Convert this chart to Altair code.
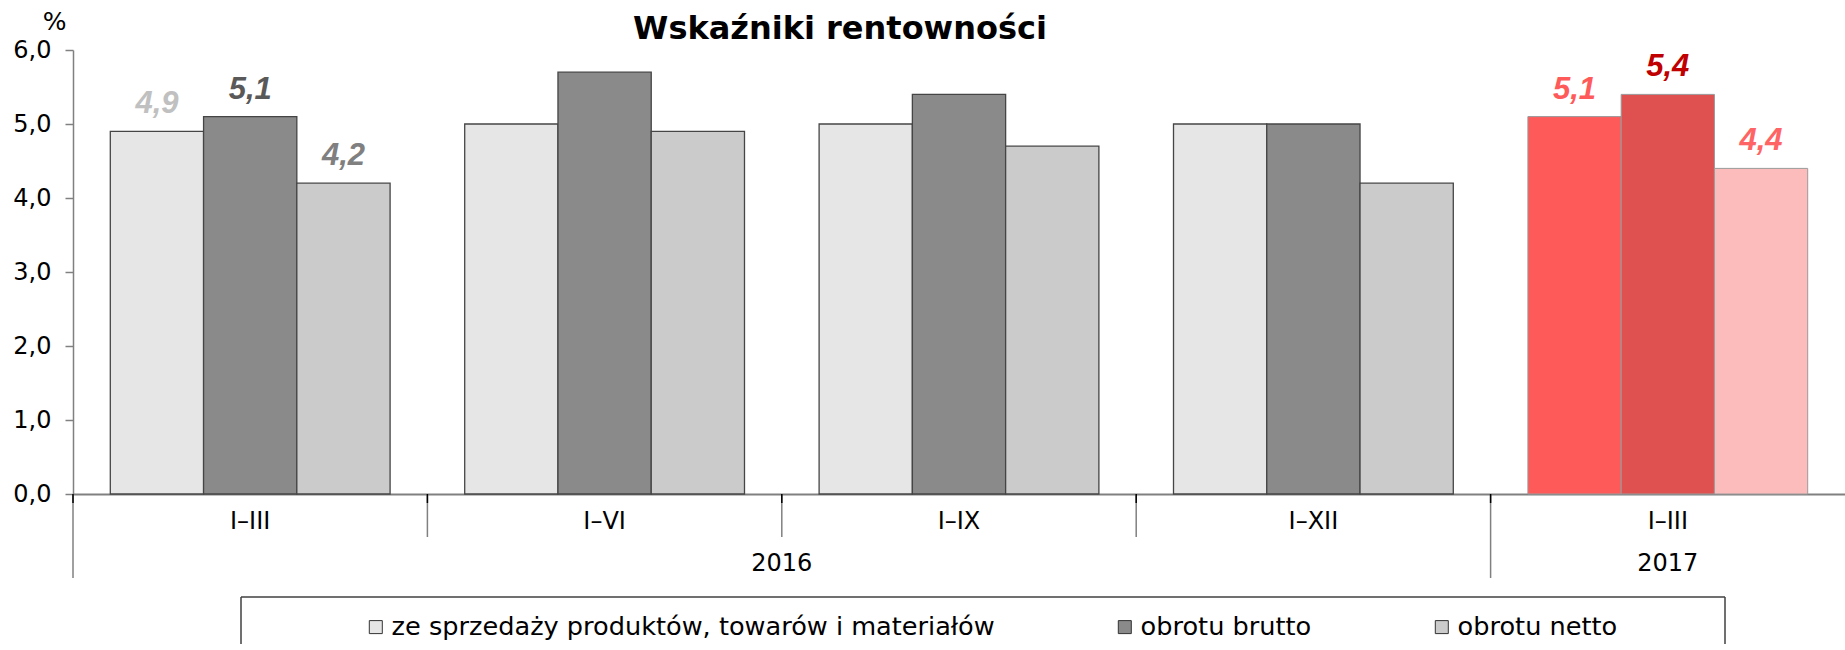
import altair as alt
import pandas as pd

# --- data -----------------------------------------------------------------
periods = ["I–III", "I–VI", "I–IX", "I–XII", "I–III"]
years = ["2016", "2016", "2016", "2016", "2017"]
series_names = [
    "ze sprzedaży produktów, towarów i materiałów",
    "obrotu brutto",
    "obrotu netto",
]
sprzedaz = [4.9, 5.0, 5.0, 5.0, 5.1]
brutto = [5.1, 5.7, 5.4, 5.0, 5.4]
netto = [4.2, 4.9, 4.7, 4.2, 4.4]
labelled_periods = [0, 4]          # periods whose bars carry value labels
y_ticks = [0, 1, 2, 3, 4, 5, 6]

# --- styling --------------------------------------------------------------
grey_fills = ["#e6e6e6", "#8a8a8a", "#cbcbcb"]
red_fills = ["#ff5a5a", "#df5050", "#fcbcbc"]
grey_text = ["#c0c0c0", "#595959", "#808080"]
red_text = ["#ff5a5a", "#c00000", "#ff6464"]

FONT = "DejaVu Sans"
LABEL_FONT = "Liberation Sans"
AXIS_GREY = "#808080"
W, H = 1772, 444

keys = [f"{y} {p}" for y, p in zip(years, periods)]
values_by_series = [sprzedaz, brutto, netto]
latest_year = years[-1]

rows = []
for i, key in enumerate(keys):
    latest = years[i] == latest_year
    for j, name in enumerate(series_names):
        v = values_by_series[j][i]
        rows.append({
            "key": key,
            "year": years[i],
            "series": name,
            "value": v,
            "fill": (red_fills if latest else grey_fills)[j],
            "text_color": (red_text if latest else grey_text)[j],
            "label": f"{v:.1f}".replace(".", ","),
            "labelled": i in labelled_periods,
        })
df = pd.DataFrame(rows)

# separators between periods: long ones where a new year starts
sep_rows = []
for i, key in enumerate(keys):
    new_year = i == 0 or years[i] != years[i - 1]
    sep_rows.append({"key": key, "long": new_year})
sep_df = pd.DataFrame(sep_rows)

# year captions: centre of each run of periods belonging to the same year
year_even, year_odd = [], []
for yr in dict.fromkeys(years):
    ks = [k for k, y in zip(keys, years) if y == yr]
    n = len(ks)
    if n % 2 == 0:
        year_even.append({"key": ks[n // 2], "year": yr})
    else:
        year_odd.append({"key": ks[n // 2], "year": yr})

x_scale = alt.Scale(domain=keys, paddingInner=0, paddingOuter=0)
xoff_scale = alt.Scale(domain=series_names, paddingInner=0, paddingOuter=0.4)
y_scale = alt.Scale(domain=[0, 6], nice=False, zero=True)

x_enc = alt.X(
    "key:N",
    scale=x_scale,
    axis=alt.Axis(
        labelExpr="split(datum.label, ' ')[1]",
        labelFont=FONT, labelFontSize=24, labelColor="black",
        labelAngle=0, labelBaseline="middle", labelPadding=27,
        ticks=False, tickSize=0,
        domainColor=AXIS_GREY, domainWidth=2,
        grid=False, title=None,
    ),
)
y_enc = alt.Y(
    "value:Q",
    scale=y_scale,
    axis=alt.Axis(
        values=y_ticks,
        labelExpr="replace(format(datum.value, '.1f'), '.', ',')",
        labelFont=FONT, labelFontSize=24, labelColor="black", labelPadding=14,
        tickSize=8, tickColor=AXIS_GREY, tickWidth=1.5,
        domainColor=AXIS_GREY, domainWidth=1.5, grid=False,
        title="%", titleAngle=0, titleX=-19, titleY=-29,
        titleAlign="center", titleBaseline="middle",
        titleFont=FONT, titleFontSize=25, titleFontWeight="normal",
        titleColor="black",
    ),
)
xoff_enc = alt.XOffset("series:N", scale=xoff_scale)

base = alt.Chart(df)

bars_old = base.transform_filter(
    alt.datum.year != latest_year
).mark_bar(stroke="#454545", strokeWidth=1.3).encode(
    x=x_enc,
    xOffset=xoff_enc,
    y=y_enc,
    color=alt.Color(
        "series:N",
        scale=alt.Scale(domain=series_names, range=grey_fills),
        legend=alt.Legend(
            orient="none", legendX=290, legendY=564,
            direction="horizontal", columns=3, title=None,
            symbolType="square", symbolSize=169,
            symbolStrokeColor="#333333", symbolStrokeWidth=1,
            labelFont=FONT, labelFontSize=25.6, labelColor="black",
            labelOffset=3, columnPadding=117, padding=0, labelLimit=1000,
        ),
    ),
)

bars_new = base.transform_filter(
    alt.datum.year == latest_year
).mark_bar(stroke="#9a9a9a", strokeWidth=1).encode(
    x=alt.X("key:N", scale=x_scale),
    xOffset=xoff_enc,
    y=alt.Y("value:Q", scale=y_scale),
    fill=alt.Fill("fill:N", scale=None),
)

value_labels = base.transform_filter(
    alt.datum.labelled
).mark_text(
    font=LABEL_FONT, fontSize=31, fontWeight="bold", fontStyle="italic",
    baseline="alphabetic", dy=-18,
).encode(
    x=alt.X("key:N", scale=x_scale),
    xOffset=xoff_enc,
    y=alt.Y("value:Q", scale=y_scale),
    text="label:N",
    fill=alt.Fill("text_color:N", scale=None),
)

sep_base = alt.Chart(sep_df)
sep_x = alt.X("key:N", scale=x_scale, bandPosition=0)

sep_short = sep_base.transform_filter(~alt.datum.long).mark_rule(
    color=AXIS_GREY, strokeWidth=1.5
).encode(x=sep_x, y=alt.value(H), y2=alt.value(H + 43))

sep_long = sep_base.transform_filter(alt.datum.long).mark_rule(
    color=AXIS_GREY, strokeWidth=1.5
).encode(x=sep_x, y=alt.value(H), y2=alt.value(H + 84))

sep_stub = sep_base.mark_rule(color="black", strokeWidth=1.5).encode(
    x=sep_x, y=alt.value(H), y2=alt.value(H + 9)
)

year_text_style = dict(font=FONT, fontSize=24, color="black", baseline="middle")
years_even = alt.Chart(pd.DataFrame(year_even)).mark_text(**year_text_style).encode(
    x=alt.X("key:N", scale=x_scale, bandPosition=0),
    y=alt.value(H + 70),
    text="year:N",
)
years_odd = alt.Chart(pd.DataFrame(year_odd)).mark_text(**year_text_style).encode(
    x=alt.X("key:N", scale=x_scale, bandPosition=0.5),
    y=alt.value(H + 70),
    text="year:N",
)

# frame around the legend row (bottom edge runs off the page)
frame_data = alt.Data(values=[{"part": "legend frame"}])
box_left, box_right, box_top, box_bottom = 168, 1652, H + 103, H + 160
frame_top = alt.Chart(frame_data).mark_rule(color="#404040", strokeWidth=1.5).encode(
    x=alt.value(box_left), x2=alt.value(box_right), y=alt.value(box_top)
)
frame_left = alt.Chart(frame_data).mark_rule(color="#404040", strokeWidth=1.5).encode(
    x=alt.value(box_left), y=alt.value(box_top), y2=alt.value(box_bottom)
)
frame_right = alt.Chart(frame_data).mark_rule(color="#404040", strokeWidth=1.5).encode(
    x=alt.value(box_right), y=alt.value(box_top), y2=alt.value(box_bottom)
)

chart = alt.layer(
    bars_old, bars_new, value_labels,
    sep_short, sep_long, sep_stub,
    years_even, years_odd,
    frame_top, frame_left, frame_right,
).properties(
    width=W,
    height=H,
    title=alt.Title(
        "Wskaźniki rentowności",
        font=FONT, fontSize=32, fontWeight="bold", color="black",
        anchor="middle", frame="group", dx=-119, offset=-62,
        baseline="alphabetic",
    ),
    autosize=alt.AutoSizeParams(type="none"),
    padding={"left": 73, "top": 50, "right": 0, "bottom": 150},
).configure_view(stroke=None)

chart.save("out.html", embed_options={"renderer": "svg", "actions": False})
